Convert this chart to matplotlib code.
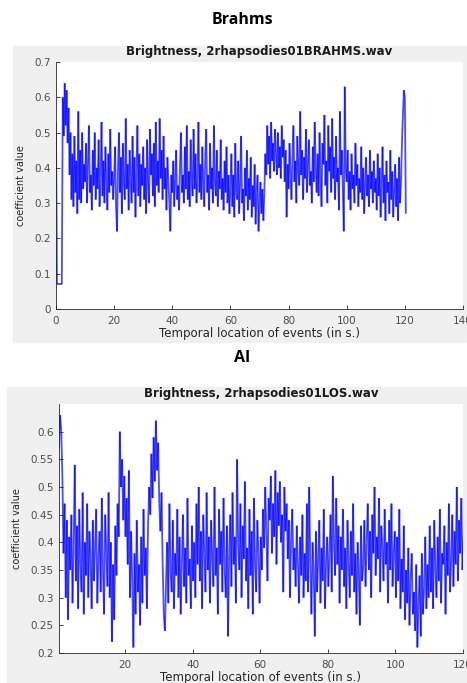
import numpy as np
import matplotlib
matplotlib.use("Agg")
import matplotlib.pyplot as plt
from matplotlib.patches import Rectangle
from matplotlib.collections import LineCollection

# brightness coefficient per analysis frame, in hundredths, one row per 10 s
brahms_centi = [
    53, 7, 7, 7, 7, 7, 7, 60, 49, 64, 52, 62, 47, 57, 38, 50, 31, 44, 29, 49, 33, 42, 27, 56, 31, 45, 30, 50, 34, 41,
    36, 47, 30, 41, 52, 33, 38, 28, 45, 35, 50, 31, 40, 34, 48, 29, 37, 53, 32, 42, 30, 46, 36, 28, 44, 33, 51, 35, 39, 31,
    38, 46, 29, 22, 40, 50, 33, 43, 27, 47, 36, 31, 54, 34, 41, 28, 45, 37, 30, 49, 33, 43, 26, 39, 52, 32, 44, 29, 41, 35,
    46, 31, 40, 27, 48, 36, 30, 51, 38, 44, 32, 47, 29, 53, 35, 42, 33, 54, 37, 45, 31, 49, 34, 40, 28, 43, 36, 30, 22, 38,
    33, 42, 29, 37, 45, 31, 35, 28, 41, 50, 33, 38, 30, 46, 34, 52, 31, 39, 29, 48, 36, 32, 51, 34, 44, 30, 37, 53, 33, 41,
    31, 46, 35, 29, 43, 51, 33, 38, 28, 47, 34, 40, 30, 52, 36, 32, 45, 29, 39, 34, 48, 31, 37, 28, 42, 33, 46, 30, 38, 27,
    35, 44, 29, 38, 26, 47, 33, 31, 42, 27, 36, 49, 30, 34, 25, 40, 32, 45, 28, 37, 31, 43, 26, 35, 29, 41, 24, 33, 38, 22,
    30, 36, 27, 34, 25, 33, 44, 38, 52, 41, 49, 37, 53, 42, 47, 39, 51, 44, 38, 50, 40, 46, 37, 52, 43, 48, 36, 45, 26, 41,
    34, 47, 38, 31, 44, 52, 36, 42, 30, 49, 40, 35, 56, 38, 45, 31, 43, 37, 51, 33, 41, 48, 35, 39, 30, 46, 36, 53, 40, 33,
    44, 32, 50, 38, 29, 47, 41, 55, 35, 42, 30, 52, 39, 46, 33, 54, 37, 43, 31, 49, 36, 40, 28, 56, 38, 45, 34, 22, 63, 40,
    36, 45, 31, 39, 28, 44, 34, 38, 30, 47, 35, 41, 29, 37, 33, 46, 31, 40, 27, 36, 43, 32, 38, 29, 45, 34, 39, 30, 42, 33,
    37, 28, 44, 32, 40, 26, 35, 46, 30, 38, 25, 42, 33, 36, 27, 45, 31, 39, 26, 34, 41, 29, 37, 25, 43, 30, 36, 47, 55, 62,
    60, 27,
]

los_centi = [
    57, 63, 60, 52, 38, 47, 30, 44, 26, 41, 35, 45, 29, 39, 54, 33, 43, 28, 46, 36, 31, 49, 27, 40, 34, 47, 30, 42, 37, 28,
    44, 33, 39, 46, 29, 37, 42, 31, 48, 35, 27, 45, 38, 32, 49, 30, 40, 22, 36, 26, 43, 34, 47, 41, 60, 50, 55, 44, 52, 41,
    48, 36, 53, 30, 42, 33, 21, 38, 27, 44, 31, 36, 25, 41, 29, 46, 34, 39, 28, 43, 50, 45, 56, 48, 59, 51, 62, 53, 58, 47,
    42, 49, 36, 27, 24, 33, 40, 29, 47, 35, 31, 44, 28, 38, 34, 46, 30, 41, 27, 36, 45, 32, 39, 29, 48, 34, 37, 28, 43, 33,
    40, 30, 47, 36, 50, 33, 42, 28, 45, 38, 31, 49, 35, 41, 29, 44, 37, 32, 50, 34, 39, 27, 46, 36, 42, 31, 48, 35, 30, 43,
    23, 38, 45, 32, 49, 36, 41, 29, 55, 40, 35, 47, 30, 43, 37, 51, 33, 39, 28, 46, 34, 42, 27, 48, 36, 31, 44, 38, 29, 41,
    35, 46, 39, 50, 42, 33, 48, 44, 52, 38, 47, 41, 53, 36, 49, 43, 51, 40, 45, 31, 50, 42, 47, 37, 44, 30, 41, 46, 35, 39,
    32, 43, 36, 29, 41, 34, 45, 30, 38, 33, 47, 31, 50, 36, 27, 40, 35, 23, 42, 31, 37, 44, 29, 39, 33, 46, 28, 36, 41, 32,
    38, 45, 31, 52, 40, 34, 48, 36, 43, 29, 41, 35, 46, 32, 39, 28, 44, 37, 30, 42, 34, 47, 31, 38, 27, 40, 35, 25, 43, 33,
    36, 44, 32, 40, 47, 35, 42, 30, 45, 38, 50, 34, 41, 37, 48, 31, 43, 39, 33, 46, 36, 40, 29, 44, 35, 47, 32, 38, 42, 30,
    41, 33, 46, 28, 37, 31, 43, 26, 35, 29, 39, 25, 33, 38, 27, 31, 24, 36, 21, 29, 34, 23, 38, 27, 32, 41, 28, 36, 30, 43,
    31, 39, 28, 44, 35, 30, 41, 33, 46, 29, 38, 36, 43, 27, 40, 34, 47, 31, 37, 45, 32, 42, 36, 50, 33, 44, 38, 48, 35, 41,
]

frame_step = 1 / 3          # seconds between frames
brahms_start = 0.0
los_start = 0.5

brahms_xticks = [0, 20, 40, 60, 80, 100, 120, 140]
brahms_yticks = [0, 0.1, 0.2, 0.3, 0.4, 0.5, 0.6, 0.7]
los_xticks = [20, 40, 60, 80, 100, 120]
los_yticks = [0.2, 0.25, 0.3, 0.35, 0.4, 0.45, 0.5, 0.55, 0.6]

brahms = np.array(brahms_centi) / 100
los = np.array(los_centi) / 100
brahms_t = brahms_start + np.arange(len(brahms)) * frame_step
los_t = los_start + np.arange(len(los)) * frame_step

plt.rcParams['font.family'] = ['DejaVu Sans']

W, H = 467, 683
fig = plt.figure(figsize=(W / 100, H / 100), dpi=100, facecolor='white')

# grey matlab figure panels, kept behind the axes
fig.patches.append(Rectangle((13 / W, 1 - 342 / H), (466 - 13) / W, (342 - 46) / H,
                             transform=fig.transFigure, color='#f0f0f0', zorder=-10))
fig.patches.append(Rectangle((7 / W, 0), (467 - 7) / W, (683 - 387) / H,
                             transform=fig.transFigure, color='#f0f0f0', zorder=-10))

fig.text(242 / W, 1 - 20 / H, 'Brahms', ha='center', va='center',
         fontsize=11.5, fontweight='bold', family=['Open Sans', 'DejaVu Sans'])
fig.text(242 / W, 1 - 358 / H, 'AI', ha='center', va='center',
         fontsize=11.5, fontweight='bold', family=['Open Sans', 'DejaVu Sans'])


def draw_trace(ax, t, y):
    # one segment per frame step so overlapping strokes build up darker
    pts = np.column_stack([t, y])
    segs = np.stack([pts[:-1], pts[1:]], axis=1)
    ax.add_collection(LineCollection(segs, colors='blue', linewidths=1.3, alpha=0.7))


def style_axes(ax, title, ylabel_x):
    ax.set_facecolor('white')
    ax.set_zorder(1)
    for s in ('top', 'right'):
        ax.spines[s].set_visible(False)
    for s in ('left', 'bottom'):
        ax.spines[s].set_color('#262626')
        ax.spines[s].set_linewidth(0.6)
    ax.tick_params(direction='in', length=3, width=0.6, color='#262626',
                   labelsize=7.5, labelcolor='#4d4d4d')
    ax.tick_params(axis='x', pad=5)
    ax.tick_params(axis='y', pad=4)
    ax.set_title(title, fontsize=8.5, fontweight='bold', color='#1a1a1a', pad=5)
    ax.set_xlabel('Temporal location of events (in s.)', fontsize=8.5, color='#262626', labelpad=1)
    ax.set_ylabel('coefficient value', fontsize=7, color='#262626')
    ax.yaxis.set_label_coords(ylabel_x, 0.5)


ax1 = fig.add_axes([56 / W, 1 - 309 / H, (463 - 56) / W, (309 - 62) / H])
draw_trace(ax1, brahms_t, brahms)
ax1.set_xlim(0, 140)
ax1.set_ylim(0, 0.7)
ax1.set_xticks(brahms_xticks)
ax1.set_yticks(brahms_yticks)
ax1.set_yticklabels(['0', '0.1', '0.2', '0.3', '0.4', '0.5', '0.6', '0.7'])
style_axes(ax1, 'Brightness, 2rhapsodies01BRAHMS.wav', -29.5 / 407)

ax2 = fig.add_axes([59 / W, 1 - 653 / H, (463 - 59) / W, (653 - 404) / H])
draw_trace(ax2, los_t, los)
ax2.set_xlim(0.5, 120)
ax2.set_ylim(0.2, 0.65)
ax2.set_xticks(los_xticks)
ax2.set_yticks(los_yticks)
ax2.set_yticklabels(['0.2', '0.25', '0.3', '0.35', '0.4', '0.45', '0.5', '0.55', '0.6'])
style_axes(ax2, 'Brightness, 2rhapsodies01LOS.wav', -37 / 404)

fig.savefig('out.png', dpi=100, facecolor='white')
